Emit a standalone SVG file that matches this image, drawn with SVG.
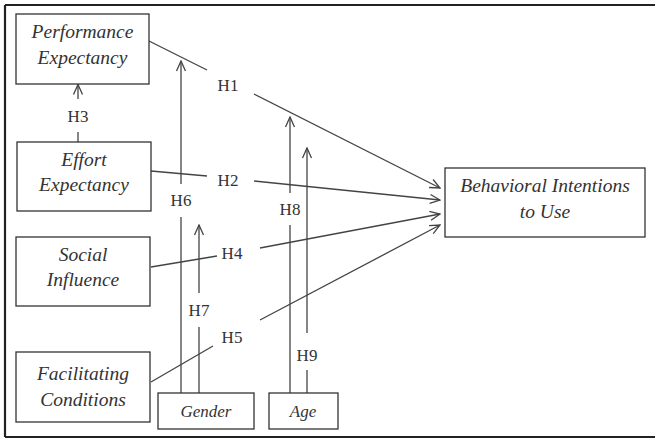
<svg xmlns="http://www.w3.org/2000/svg" width="655" height="439" viewBox="0 0 655 439">
<style>
.box{fill:#fff;stroke:#333;stroke-width:1.3}
.lbl{font-family:"Liberation Serif",serif;font-style:italic;font-size:19.5px;fill:#333;text-anchor:middle}
.sm{font-size:17px}
.h{font-family:"Liberation Serif",serif;font-size:17px;fill:#333;text-anchor:middle}
.ln{fill:none;stroke:#444;stroke-width:1.3}
</style>
<defs>
<marker id="ah" viewBox="0 0 12 12" refX="11" refY="6" markerWidth="12" markerHeight="12" markerUnits="userSpaceOnUse" orient="auto">
<path d="M1,1.5 L11,6 L1,10.5" fill="none" stroke="#444" stroke-width="1.3"/>
</marker>
</defs>
<rect x="0" y="0" width="655" height="439" fill="#fff"/>
<path d="M5,5 H655 M5,5 V437 M5,437 H655" fill="none" stroke="#222" stroke-width="2.2"/>
<g id="connectors">
<path class="ln" d="M149,41 L207,70"/>
<path class="ln" d="M254,94 L440,188" marker-end="url(#ah)"/>
<path class="ln" d="M151,171 L207,176"/>
<path class="ln" d="M254,181 L440,200" marker-end="url(#ah)"/>
<path class="ln" d="M151,267 L217,256"/>
<path class="ln" d="M260,248 L440,214" marker-end="url(#ah)"/>
<path class="ln" d="M151,382 L213,346"/>
<path class="ln" d="M260,320 L440,225" marker-end="url(#ah)"/>
<path class="ln" d="M78,142 V132"/>
<path class="ln" d="M78,99 V84.5" marker-end="url(#ah)"/>
<path class="ln" d="M181,393 V217"/>
<path class="ln" d="M181,184 V61" marker-end="url(#ah)"/>
<path class="ln" d="M199,393 V327"/>
<path class="ln" d="M199,293 V225" marker-end="url(#ah)"/>
<path class="ln" d="M290,393 V225"/>
<path class="ln" d="M290,193 V117" marker-end="url(#ah)"/>
<path class="ln" d="M307,393 V370"/>
<path class="ln" d="M307,333 V148" marker-end="url(#ah)"/>
<text class="h" x="228" y="91">H1</text>
<text class="h" x="228" y="186">H2</text>
<text class="h" x="78" y="122">H3</text>
<text class="h" x="232" y="259">H4</text>
<text class="h" x="232" y="343">H5</text>
<text class="h" x="181" y="206">H6</text>
<text class="h" x="199" y="316">H7</text>
<text class="h" x="290" y="215">H8</text>
<text class="h" x="307" y="361">H9</text>
</g>
<g id="pe"><rect class="box" x="16" y="14" width="133" height="70"/><text class="lbl" x="82.5" y="38">Performance</text><text class="lbl" x="82.5" y="64">Expectancy</text></g>
<g id="ee"><rect class="box" x="17" y="142" width="134" height="69"/><text class="lbl" x="84" y="166">Effort</text><text class="lbl" x="84" y="191">Expectancy</text></g>
<g id="si"><rect class="box" x="16" y="237" width="134" height="69"/><text class="lbl" x="83" y="261">Social</text><text class="lbl" x="83" y="286">Influence</text></g>
<g id="fc"><rect class="box" x="16" y="352" width="134" height="70"/><text class="lbl" x="83" y="380">Facilitating</text><text class="lbl" x="83" y="406">Conditions</text></g>
<g id="gender"><rect class="box" x="158" y="393" width="96" height="36"/><text class="lbl sm" x="206" y="417">Gender</text></g>
<g id="age"><rect class="box" x="269" y="393" width="69" height="36"/><text class="lbl sm" x="303" y="417">Age</text></g>
<g id="bi"><rect class="box" x="445" y="168" width="200" height="69"/><text class="lbl" x="545" y="192">Behavioral Intentions</text><text class="lbl" x="545" y="218">to Use</text></g>
</svg>
